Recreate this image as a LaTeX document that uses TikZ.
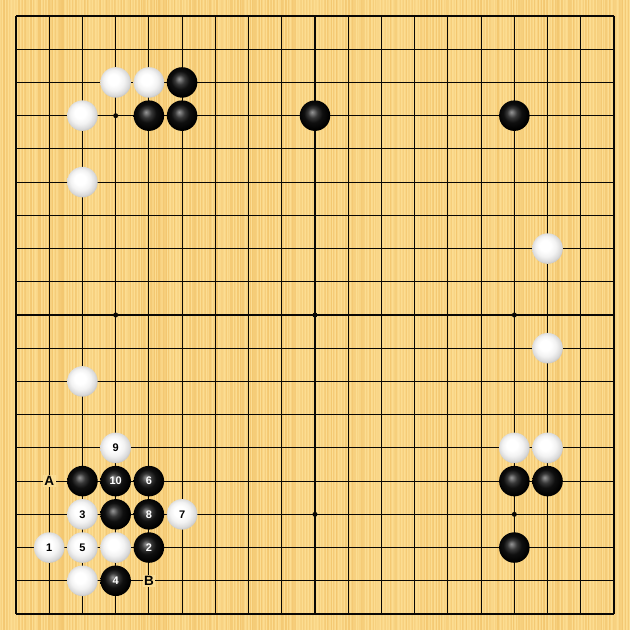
\documentclass[tikz,border=0pt]{standalone}
\usepackage{fontspec}
\setmainfont{Liberation Sans}
\definecolor{board}{RGB}{252,221,146}
\definecolor{stripe}{RGB}{240,190,98}
\definecolor{gridc}{RGB}{10,8,4}
\pgfdeclareradialshading{wball}{\pgfpoint{-5bp}{6bp}}{color(0bp)=(white); color(9bp)=(white); color(17bp)=(black!5); color(24bp)=(black!15); color(29bp)=(black!28); color(40bp)=(black!40)}
\pgfdeclareradialshading{bball}{\pgfpoint{-5bp}{6bp}}{color(0bp)=(black!42); color(2.5bp)=(black!52); color(8bp)=(black!78); color(15bp)=(black!94); color(25bp)=(black); color(40bp)=(black)}
\tikzset{
  gridline/.style={gridc, line width=1.15pt},
  stonebase/.style={circle, minimum size=30.5pt, inner sep=0pt, font=\bfseries\fontsize{11}{12}\selectfont},
  bstone/.style={stonebase, shading=bball, text=white},
  wstone/.style={stonebase, shading=wball, text=black},
  lbl/.style={fill=board, inner sep=1.5pt, text=black, font=\bfseries\fontsize{13.5}{14}\selectfont},
  star/.style={circle, fill=gridc, inner sep=0pt, minimum size=5pt}
}
\begin{document}
\begin{tikzpicture}[x=33.22pt,y=-33.22pt]
\useasboundingbox (-0.4816,-0.4816) rectangle (18.4816,18.4816);
\fill[board] (-0.4816,-0.4816) rectangle (18.4816,18.4816);
\pgfmathsetseed{7}
\foreach \i in {0,...,420} {
  \pgfmathsetmacro\w{rnd*0.8+0.4}
  \pgfmathsetmacro\o{rnd*0.6+0.1}
  \draw[stripe, opacity=\o, line width=\w pt] ({-0.4816+\i*0.04515},-0.4816) -- ({-0.4816+\i*0.04515},18.4816);
}
\foreach \k in {0,...,18} {
  \draw[gridline] (\k,0) -- (\k,18);
  \draw[gridline] (0,\k) -- (18,\k);
}
\foreach \a/\b [count=\n] in {3/3,9/3,15/3,3/9,9/9,15/9,3/15,9/15,15/15}
  \node[star] (s\n) at (\a,\b) {};
% top left
\node[wstone] (w1) at (3,2) {};
\node[wstone] (w2) at (4,2) {};
\node[bstone] (b1) at (5,2) {};
\node[wstone] (w3) at (2,3) {};
\node[bstone] (b2) at (4,3) {};
\node[bstone] (b3) at (5,3) {};
\node[bstone] (b4) at (9,3) {};
\node[bstone] (b5) at (15,3) {};
\node[wstone] (w4) at (2,5) {};
\node[wstone] (w5) at (16,7) {};
\node[wstone] (w6) at (16,10) {};
\node[wstone] (w7) at (2,11) {};
% bottom right
\node[wstone] (w8) at (15,13) {};
\node[wstone] (w9) at (16,13) {};
\node[bstone] (b6) at (15,14) {};
\node[bstone] (b7) at (16,14) {};
\node[bstone] (b8) at (15,16) {};
% bottom left
\node[wstone] (m9) at (3,13) {9};
\node[lbl] (A) at (1,14) {A};
\node[bstone] (b9) at (2,14) {};
\node[bstone] (m10) at (3,14) {10};
\node[bstone] (m6) at (4,14) {6};
\node[wstone] (m3) at (2,15) {3};
\node[bstone] (b10) at (3,15) {};
\node[bstone] (m8) at (4,15) {8};
\node[wstone] (m7) at (5,15) {7};
\node[wstone] (m1) at (1,16) {1};
\node[wstone] (m5) at (2,16) {5};
\node[wstone] (w10) at (3,16) {};
\node[bstone] (m2) at (4,16) {2};
\node[wstone] (w11) at (2,17) {};
\node[bstone] (m4) at (3,17) {4};
\node[lbl] (B) at (4,17) {B};
\end{tikzpicture}
\end{document}
